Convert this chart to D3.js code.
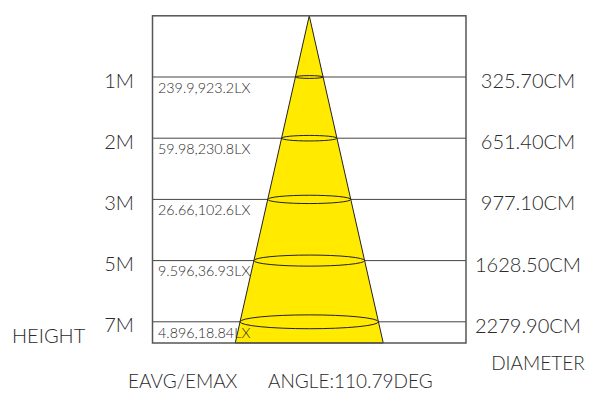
<!DOCTYPE html>
<html>
<head>
<meta charset="utf-8">
<script src="https://cdn.jsdelivr.net/npm/d3@7"></script>
<style>
  body { margin: 0; background: #fff; }
  svg { display: block; }
  text { font-family: Lato, "Open Sans", sans-serif; font-weight: 300; fill: #2a2a2a; }
  .big { font-size: 20px; }
  .mid { font-size: 19px; }
  .small { font-size: 14.3px; }
</style>
</head>
<body>
<div class="chart-beam"><svg></svg></div>
<script>
// datos del haz
const heights = ["1M", "2M", "3M", "5M", "7M"];
const eavg = ["239.9", "59.98", "26.66", "9.596", "4.896"];
const emax = ["923.2", "230.8", "102.6", "36.93", "18.84"];
const diameters = ["325.70", "651.40", "977.10", "1628.50", "2279.90"];
const angle = "110.79";

const beamChart = () => {
    const w = 595, h = 396;
    const box = { left: 152.5, right: 466, top: 15.8, bottom: 343 };
    const svg = d3.select('.chart-beam svg').attr('width', w).attr('height', h);

    // escala vertical: nivel 0 = punto de luz, niveles 1..5 = filas
    const step = 61.2;
    const lastLevel = (box.bottom - box.top) / step;
    const y = d3.scaleLinear().domain([0, lastLevel]).range([box.top, box.bottom]);
    // semiancho del cono segun el nivel
    const spread = d3.scaleLinear().domain([0, lastLevel]).range([0, 74]);
    const cx = (box.left + box.right) / 2;

    const rows = heights.map((d, i) => ({
        height: d, level: i + 1, eavg: eavg[i], emax: emax[i], diameter: diameters[i]
    }));

    // lineas horizontales
    svg.selectAll('.row-line')
        .data(rows)
        .enter().append('line')
        .attr('class', 'row-line')
        .attr('x1', box.left).attr('x2', box.right)
        .attr('y1', d => y(d.level)).attr('y2', d => y(d.level))
        .attr('stroke', '#444').attr('stroke-width', 1);

    // cono
    const cone = [[cx, y(0)], [cx - spread(lastLevel), y(lastLevel)], [cx + spread(lastLevel), y(lastLevel)]];
    svg.append('path')
        .attr('d', d3.line()(cone) + 'Z')
        .attr('fill', '#ffea00')
        .attr('stroke', '#222')
        .attr('stroke-width', 1);

    // elipses
    svg.selectAll('.ring')
        .data(rows)
        .enter().append('ellipse')
        .attr('class', 'ring')
        .attr('cx', cx)
        .attr('cy', d => y(d.level))
        .attr('rx', d => spread(d.level))
        .attr('ry', d => spread(d.level) / 10)
        .attr('fill', 'none')
        .attr('stroke', '#222')
        .attr('stroke-width', 1);

    // marco
    svg.append('rect')
        .attr('x', box.left).attr('y', box.top)
        .attr('width', box.right - box.left).attr('height', box.bottom - box.top)
        .attr('fill', 'none')
        .attr('stroke', '#555').attr('stroke-width', 1.5);

    // etiquetas
    svg.selectAll('.h-label')
        .data(rows)
        .enter().append('text')
        .attr('class', 'big')
        .attr('x', 134).attr('y', d => y(d.level) + 10.5)
        .attr('text-anchor', 'end')
        .text(d => d.height);

    svg.selectAll('.lx-label')
        .data(rows)
        .enter().append('text')
        .attr('class', 'small')
        .attr('x', 158).attr('y', d => y(d.level) + 15.7)
        .text(d => d.eavg + ',' + d.emax + 'LX');

    svg.selectAll('.d-label')
        .data(rows)
        .enter().append('text')
        .attr('class', 'big')
        .attr('x', 528).attr('y', d => y(d.level) + 11)
        .attr('text-anchor', 'middle')
        .text(d => d.diameter + 'CM');

    svg.append('text').attr('class', 'big').attr('x', 12).attr('y', 343).text('HEIGHT');
    svg.append('text').attr('class', 'mid').attr('x', 538).attr('y', 370).attr('text-anchor', 'middle').text('DIAMETER');
    svg.append('text').attr('class', 'mid').attr('x', 128).attr('y', 388).text('EAVG/EMAX');
    svg.append('text').attr('class', 'mid').attr('x', 268).attr('y', 388).text('ANGLE:' + angle + 'DEG');
}

beamChart()
</script>
</body>
</html>
